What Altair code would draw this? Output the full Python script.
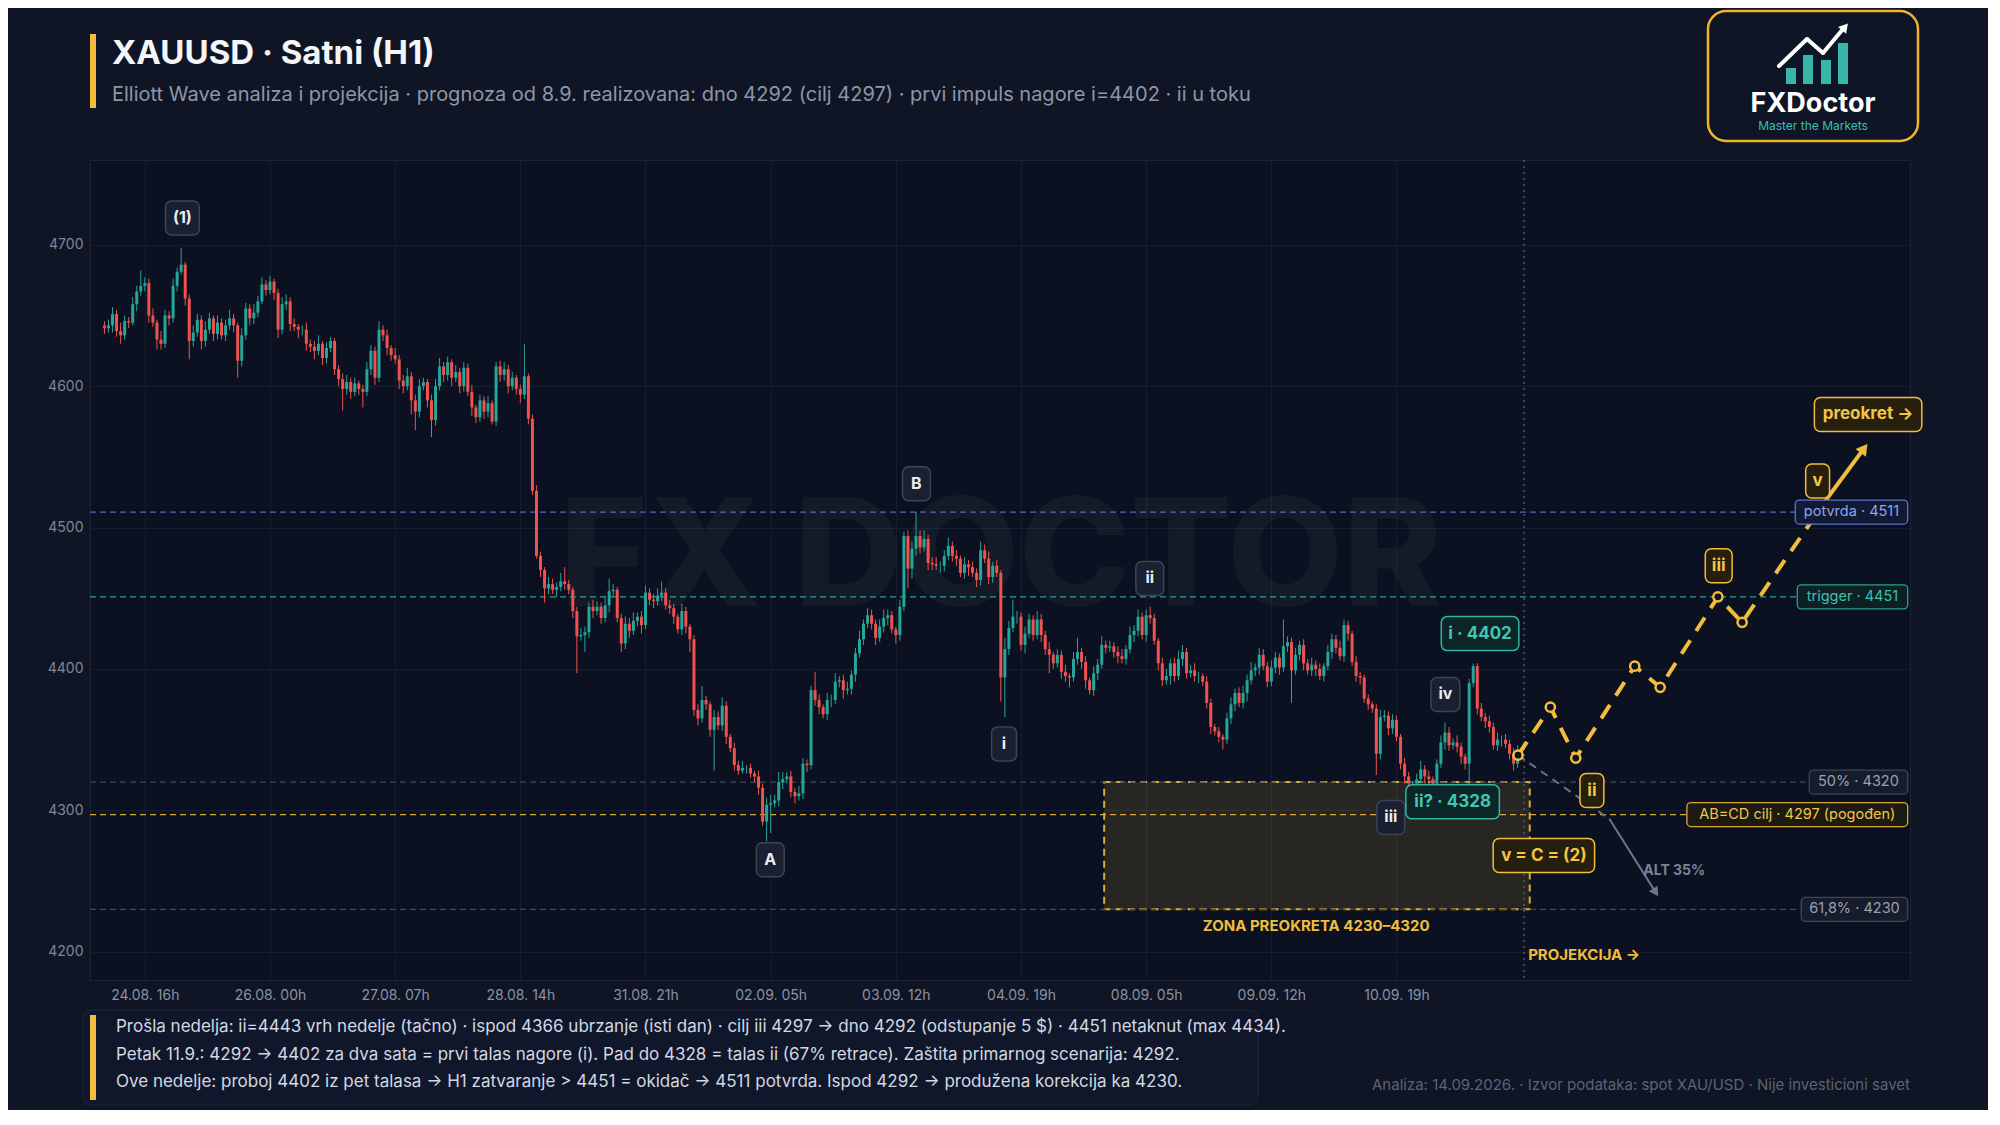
import math
import altair as alt
import pandas as pd

# ---------------- DATA ----------------
first_open = 4643
close = [
    4641, 4643, 4651, 4639, 4636, 4646, 4645, 4658, 4667, 4671,
    4673, 4650, 4645, 4633, 4630, 4650, 4648, 4671, 4681, 4686,
    4662, 4632, 4638, 4647, 4632, 4640, 4648, 4637, 4645, 4636,
    4643, 4648, 4643, 4618, 4636, 4655, 4648, 4652, 4660, 4672,
    4668, 4674, 4666, 4640, 4658, 4660, 4644, 4642, 4640, 4640,
    4630, 4628, 4625, 4630, 4620, 4627, 4632, 4612, 4605, 4598,
    4603, 4596, 4602, 4598, 4596, 4612, 4625, 4606, 4640, 4636,
    4627, 4622, 4619, 4604, 4600, 4607, 4590, 4582, 4600, 4603,
    4590, 4576, 4600, 4614, 4608, 4617, 4606, 4610, 4600, 4613,
    4596, 4585, 4578, 4590, 4582, 4588, 4575, 4614, 4608, 4612,
    4600, 4606, 4598, 4594, 4607, 4577, 4526, 4480, 4470, 4457,
    4460, 4456, 4458, 4462, 4460, 4456, 4441, 4423, 4424, 4426,
    4444, 4441, 4444, 4436, 4445, 4455, 4456, 4436, 4418, 4432,
    4427, 4434, 4437, 4431, 4454, 4449, 4448, 4452, 4454, 4445,
    4443, 4437, 4428, 4441, 4430, 4421, 4371, 4365, 4378, 4375,
    4357, 4366, 4360, 4374, 4352, 4344, 4332, 4328, 4330, 4330,
    4326, 4324, 4316, 4292, 4304, 4305, 4307, 4320, 4322, 4324,
    4313, 4310, 4312, 4333, 4332, 4385, 4378, 4373, 4368, 4378,
    4378, 4391, 4392, 4385, 4386, 4396, 4411, 4421, 4432, 4438,
    4432, 4422, 4430, 4436, 4438, 4428, 4424, 4444, 4494, 4471,
    4485, 4494, 4486, 4492, 4475, 4474, 4473, 4473, 4480, 4487,
    4480, 4478, 4468, 4474, 4472, 4468, 4463, 4484, 4478, 4465,
    4473, 4468, 4394, 4414, 4429, 4437, 4437, 4417, 4425, 4435,
    4424, 4435, 4424, 4414, 4410, 4404, 4410, 4398, 4395, 4394,
    4407, 4412, 4405, 4392, 4385, 4397, 4403, 4417, 4415, 4416,
    4412, 4409, 4407, 4414, 4424, 4427, 4437, 4424, 4438, 4436,
    4420, 4404, 4392, 4395, 4404, 4395, 4407, 4412, 4397, 4399,
    4395, 4395, 4391, 4376, 4359, 4356, 4352, 4350, 4365, 4375,
    4383, 4376, 4383, 4392, 4399, 4401, 4410, 4402, 4391, 4401,
    4408, 4401, 4416, 4419, 4399, 4410, 4417, 4404, 4399, 4403,
    4400, 4395, 4402, 4412, 4421, 4415, 4409, 4431, 4425, 4405,
    4395, 4394, 4379, 4375, 4372, 4340, 4366, 4367, 4358, 4364,
    4352, 4333, 4324, 4319, 4319, 4322, 4329, 4324, 4322, 4319,
    4333, 4348, 4355, 4346, 4348, 4345, 4338, 4333, 4390, 4402,
    4372, 4366, 4363, 4359, 4346, 4350, 4350, 4347, 4340, 4333, 4340,
]
wick_hi = [
    3, 4, 5, 3, 6, 4, 3, 5, 4, 11,
    4, 3, 5, 2, 6, 4, 3, 5, 3, 12,
    2, 3, 5, 4, 3, 6, 4, 2, 5, 3,
    4, 6, 3, 2, 5, 4, 3, 6, 4, 5,
    3, 4, 2, 3, 5, 5, 3, 4, 2, 3,
    5, 3, 4, 6, 2, 4, 3, 2, 3, 4,
    5, 3, 4, 2, 3, 5, 4, 3, 6, 3,
    4, 2, 5, 3, 4, 6, 3, 4, 5, 3,
    2, 4, 5, 6, 3, 4, 2, 5, 3, 4,
    3, 5, 2, 4, 3, 5, 2, 3, 4, 5,
    3, 4, 2, 3, 23, 2, 3, 4, 3, 2,
    5, 4, 3, 6, 10, 3, 2, 3, 5, 4,
    3, 5, 4, 3, 6, 9, 4, 2, 3, 5,
    4, 6, 3, 4, 5, 3, 4, 5, 8, 3,
    4, 3, 2, 5, 3, 2, 3, 4, 10, 3,
    2, 5, 4, 6, 3, 2, 4, 3, 5, 2,
    3, 2, 4, 3, 5, 6, 4, 7, 5, 3,
    4, 3, 5, 4, 3, 3, 13, 4, 2, 5,
    4, 6, 3, 4, 5, 3, 4, 6, 3, 5,
    4, 3, 5, 6, 4, 3, 2, 5, 3, 4,
    5, 17, 4, 6, 3, 4, 5, 3, 4, 6,
    3, 4, 2, 5, 3, 4, 3, 6, 4, 5,
    3, 4, 2, 8, 5, 12, 4, 3, 5, 4,
    3, 6, 4, 3, 5, 2, 4, 3, 5, 2,
    5, 10, 3, 4, 2, 5, 4, 6, 3, 4,
    3, 4, 5, 3, 6, 4, 5, 3, 4, 6,
    3, 2, 4, 5, 3, 4, 6, 5, 3, 4,
    5, 3, 2, 4, 3, 2, 3, 2, 4, 5,
    3, 4, 5, 4, 6, 3, 5, 4, 3, 5,
    4, 3, 19, 4, 3, 5, 3, 4, 3, 5,
    3, 4, 2, 5, 4, 3, 5, 4, 3, 2,
    4, 3, 2, 3, 2, 3, 5, 4, 3, 4,
    3, 2, 4, 3, 2, 4, 6, 3, 4, 2,
    3, 5, 7, 4, 3, 5, 3, 2, 3, 2,
    2, 4, 3, 4, 3, 5, 3, 4, 3, 4, 6,
]
wick_lo = [
    4, 3, 5, 4, 6, 3, 4, 2, 5, 3,
    4, 5, 3, 7, 4, 3, 5, 3, 4, 2,
    5, 13, 4, 3, 6, 4, 3, 5, 4, 3,
    4, 3, 5, 12, 4, 3, 5, 4, 3, 2,
    4, 3, 5, 6, 3, 4, 5, 3, 6, 4,
    5, 4, 6, 3, 5, 4, 3, 4, 5, 15,
    4, 5, 3, 4, 11, 3, 4, 5, 3, 4,
    5, 4, 3, 6, 5, 3, 10, 13, 4, 3,
    5, 12, 4, 3, 5, 4, 6, 3, 5, 4,
    3, 6, 4, 3, 5, 4, 2, 3, 5, 4,
    5, 3, 4, 6, 3, 4, 3, 2, 5, 10,
    4, 3, 5, 3, 4, 3, 5, 26, 3, 12,
    4, 5, 3, 4, 3, 5, 4, 3, 6, 4,
    5, 3, 4, 6, 3, 4, 5, 3, 4, 3,
    4, 5, 3, 4, 5, 9, 4, 5, 3, 4,
    5, 29, 3, 4, 5, 3, 4, 3, 2, 4,
    3, 4, 5, 3, 14, 20, 3, 4, 5, 3,
    4, 5, 3, 4, 5, 3, 4, 5, 3, 4,
    5, 3, 4, 6, 3, 4, 5, 3, 4, 3,
    4, 5, 3, 4, 5, 3, 6, 4, 3, 14,
    7, 5, 4, 3, 5, 4, 3, 5, 4, 3,
    4, 5, 3, 4, 6, 3, 5, 4, 3, 5,
    4, 3, 17, 28, 4, 3, 5, 4, 6, 3,
    4, 3, 5, 4, 13, 4, 3, 5, 4, 7,
    3, 4, 5, 6, 3, 4, 5, 3, 4, 3,
    4, 5, 3, 4, 3, 5, 4, 3, 5, 4,
    3, 5, 4, 3, 6, 4, 3, 5, 4, 3,
    4, 5, 3, 4, 5, 3, 4, 7, 3, 4,
    5, 3, 4, 6, 3, 4, 5, 3, 4, 3,
    4, 5, 3, 4, 23, 3, 4, 5, 3, 4,
    5, 3, 4, 3, 5, 4, 3, 4, 5, 3,
    4, 5, 3, 4, 3, 15, 4, 3, 5, 4,
    3, 4, 5, 6, 3, 4, 3, 5, 4, 3,
    4, 3, 5, 4, 3, 4, 5, 4, 15, 3,
    4, 3, 5, 4, 3, 4, 5, 3, 4, 5, 3,
]

tick_bars = [10, 41, 72, 103, 134, 165, 196, 227, 258, 289, 320]
tick_labels = ["24.08. 16h", "26.08. 00h", "27.08. 07h", "28.08. 14h", "31.08. 21h",
               "02.09. 05h", "03.09. 12h", "04.09. 19h", "08.09. 05h", "09.09. 12h", "10.09. 19h"]
y_ticks = [4200, 4300, 4400, 4500, 4600, 4700]

level_prices = [4511, 4451, 4320, 4297, 4230]
level_labels = ["potvrda · 4511", "trigger · 4451", "50% · 4320", "AB=CD cilj · 4297 (pogođen)", "61,8% · 4230"]

zone_bars = [247.6, 353.0]
zone_prices = [4230, 4320]
now_bar = 351.6

proj_bars = [350.1, 358.1, 364.4, 379.0, 385.3, 399.6, 405.6]
proj_prices = [4339, 4373, 4337, 4402, 4387, 4451, 4433]
proj_tail_bars = [405.6, 427.0]
proj_tail_prices = [4433, 4522]
proj_arrow_bars = [427.0, 435.8]
proj_arrow_prices = [4522, 4556]
alt_dash_bars = [350.1, 372.7]
alt_dash_prices = [4339, 4294]
alt_arrow_bars = [372.7, 384.2]
alt_arrow_prices = [4294, 4242]

wave_texts = ["(1)", "B", "A", "ii", "i", "iii", "iv"]
wave_bars = [19.3, 201.1, 164.9, 258.9, 222.8, 318.6, 332.1]
wave_prices = [4719, 4531, 4265, 4464, 4347, 4295, 4382]
teal_texts = ["i · 4402", "ii? · 4328"]
teal_bars = [340.7, 333.9]
teal_prices = [4425, 4306]
proj_texts = ["ii", "iii", "v", "v = C = (2)", "preokret →"]
proj_lbl_bars = [368.4, 399.8, 424.3, 356.5, 436.8]
proj_lbl_prices = [4314, 4473, 4533, 4268, 4580]

title = "XAUUSD · Satni (H1)"
subtitle = ("Elliott Wave analiza i projekcija · prognoza od 8.9. realizovana: dno 4292 (cilj 4297) · "
            "prvi impuls nagore i=4402 · ii u toku")
notes = [
    "Prošla nedelja: ii=4443 vrh nedelje (tačno) · ispod 4366 ubrzanje (isti dan) · cilj iii 4297 → dno 4292 (odstupanje 5 $) · 4451 netaknut (max 4434).",
    "Petak 11.9.: 4292 → 4402 za dva sata = prvi talas nagore (i). Pad do 4328 = talas ii (67% retrace). Zaštita primarnog scenarija: 4292.",
    "Ove nedelje: proboj 4402 iz pet talasa → H1 zatvaranje > 4451 = okidač → 4511 potvrda. Ispod 4292 → produžena korekcija ka 4230.",
]
footer = "Analiza: 14.09.2026. · Izvor podataka: spot XAU/USD · Nije investicioni savet"

# ---------------- LAYOUT / STYLE ----------------
W, H = 1820, 820
X_DOM = [-2.34, 445.94]
Y_DOM = [4180, 4760]
PPB = W / (X_DOM[1] - X_DOM[0])
PPU = H / (Y_DOM[1] - Y_DOM[0])

BG = "#0f1524"
PLOT_BG = "#0b1120"
GRID = "#161e2e"
GREEN = "#26a69a"
RED = "#ef5350"
YEL = "#f2bd3c"
FONT = "Inter"

XS = alt.Scale(domain=X_DOM, nice=False, zero=False)
YS = alt.Scale(domain=Y_DOM, nice=False, zero=False)

label_expr = "''"
for b, l in reversed(list(zip(tick_bars, tick_labels))):
    label_expr = f"datum.value == {b} ? '{l}' : ({label_expr})"

XA = alt.Axis(values=tick_bars, labelExpr=label_expr, grid=True, gridColor=GRID, domain=False,
              ticks=False, labelPadding=8, labelFontSize=14, labelFont=FONT, labelColor="#8a92a4",
              title=None, labelAngle=0, labelFlush=False)
YA = alt.Axis(values=y_ticks, format="d", grid=True, gridColor=GRID, domain=False, ticks=False,
              labelPadding=7, labelFontSize=14, labelFont=FONT, labelColor="#7f879a", title=None)


def xe(f):
    return alt.X(f"{f}:Q", scale=XS, axis=XA)


def ye(f):
    return alt.Y(f"{f}:Q", scale=YS, axis=YA)


ONE = pd.DataFrame({"k": [0]})

# candles
n = len(close)
opens = [first_open] + close[:-1]
highs = [max(o, c) + w for o, c, w in zip(opens, close, wick_hi)]
lows = [min(o, c) - w for o, c, w in zip(opens, close, wick_lo)]
cdf = pd.DataFrame({"bar": list(range(n)), "open": opens, "close": close, "high": highs, "low": lows})
cdf["dir"] = ["up" if c >= o else "down" for o, c in zip(opens, close)]
ccol = alt.Color("dir:N", scale=alt.Scale(domain=["up", "down"], range=[GREEN, RED]), legend=None)

layers = []

# watermark
layers.append(alt.Chart(ONE).mark_text(text="FX DOCTOR", fontSize=150, fontWeight=800, font=FONT,
                                        color="#ffffff", opacity=0.035, align="center", baseline="middle")
              .encode(x=alt.value(911), y=alt.value(401)))

# zone
zdf = pd.DataFrame({"b1": [zone_bars[0]], "b2": [zone_bars[1]], "p1": [zone_prices[0]], "p2": [zone_prices[1]]})
layers.append(alt.Chart(zdf).mark_rect(fill=YEL, fillOpacity=0.13, stroke=YEL, strokeWidth=2,
                                       strokeDash=[7, 5], strokeOpacity=0.9)
              .encode(x=xe("b1"), x2="b2", y=ye("p1"), y2="p2"))

# level lines
level_line_cols = ["#5668b8", "#2a9f92", "#3f485c", "#d6a935", "#3f485c"]
ldf = pd.DataFrame({"price": level_prices, "col": level_line_cols})
layers.append(alt.Chart(ldf).mark_rule(strokeDash=[6, 4], strokeWidth=1.3)
              .encode(x=alt.value(0), x2=alt.value(W), y=ye("price"), color=alt.Color("col:N", scale=None)))

# now line
layers.append(alt.Chart(pd.DataFrame({"bar": [now_bar]})).mark_rule(strokeDash=[2, 4], color="#5a6275",
                                                                    strokeWidth=1.3)
              .encode(x=xe("bar")))

# candles
layers.append(alt.Chart(cdf).mark_rule(strokeWidth=1).encode(x=xe("bar"), y=ye("low"), y2="high", color=ccol))
layers.append(alt.Chart(cdf).mark_bar(size=3).encode(x=xe("bar"), y=ye("open"), y2="close", color=ccol))


def line_df(bars, prices):
    return pd.DataFrame({"bar": bars, "price": prices, "o": list(range(len(bars)))})


def arrow_angle(b1, p1, b2, p2):
    dx = (b2 - b1) * PPB
    dy = -(p2 - p1) * PPU
    return math.degrees(math.atan2(dx, -dy)) % 360


# projection
layers.append(alt.Chart(line_df(alt_dash_bars, alt_dash_prices)).mark_line(color="#6d7588", strokeWidth=2,
                                                                            strokeDash=[8, 6])
              .encode(x=xe("bar"), y=ye("price"), order="o:Q"))
layers.append(alt.Chart(line_df(alt_arrow_bars, alt_arrow_prices)).mark_line(color="#6d7588", strokeWidth=2)
              .encode(x=xe("bar"), y=ye("price"), order="o:Q"))
layers.append(alt.Chart(line_df(alt_arrow_bars[1:], alt_arrow_prices[1:]))
              .mark_point(shape="triangle-up", filled=True, color="#6d7588", size=110, opacity=1,
                          angle=arrow_angle(alt_arrow_bars[0], alt_arrow_prices[0],
                                            alt_arrow_bars[1], alt_arrow_prices[1]))
              .encode(x=xe("bar"), y=ye("price")))

layers.append(alt.Chart(line_df(proj_bars + proj_tail_bars[1:], proj_prices + proj_tail_prices[1:]))
              .mark_line(color=YEL, strokeWidth=4, strokeDash=[16, 11])
              .encode(x=xe("bar"), y=ye("price"), order="o:Q"))
layers.append(alt.Chart(line_df(proj_arrow_bars, proj_arrow_prices)).mark_line(color=YEL, strokeWidth=4)
              .encode(x=xe("bar"), y=ye("price"), order="o:Q"))
layers.append(alt.Chart(line_df(proj_arrow_bars[1:], proj_arrow_prices[1:]))
              .mark_point(shape="triangle-up", filled=True, color=YEL, size=170, opacity=1,
                          angle=arrow_angle(proj_arrow_bars[0], proj_arrow_prices[0],
                                            proj_arrow_bars[1], proj_arrow_prices[1]))
              .encode(x=xe("bar"), y=ye("price")))
layers.append(alt.Chart(line_df(proj_bars, proj_prices))
              .mark_point(shape="circle", size=85, fill=PLOT_BG, stroke=YEL, strokeWidth=2.5,
                          filled=False, opacity=1, fillOpacity=1)
              .encode(x=xe("bar"), y=ye("price")))


# label boxes
def box_df(texts, bars, prices, widths, height):
    rows = []
    for t, b, p, w in zip(texts, bars, prices, widths):
        rows.append(dict(text=t, bar=b, price=p, x1=b - w / 2 / PPB, x2=b + w / 2 / PPB,
                         y1=p - height / 2 / PPU, y2=p + height / 2 / PPU))
    return pd.DataFrame(rows)


def box_layers(df, fill, stroke, tcol, fsize, weight="bold", sw=1.5, radius=6):
    r = alt.Chart(df).mark_rect(fill=fill, stroke=stroke, strokeWidth=sw, cornerRadius=radius) \
        .encode(x=xe("x1"), x2="x2", y=ye("y1"), y2="y2")
    t = alt.Chart(df).mark_text(color=tcol, fontSize=fsize, fontWeight=weight, font=FONT,
                                baseline="middle", align="center") \
        .encode(x=xe("bar"), y=ye("price"), text="text:N")
    return [r, t]


# level label boxes (right aligned to the plot edge)
lvl_widths = [113, 111, 99, 222, 107]
lvl_fill = ["#121a33", "#0d2124", "#161c2b", "#1d1a12", "#161c2b"]
lvl_stroke = ["#5c73cc", "#2a9f92", "#3d465a", "#d6a935", "#3d465a"]
lvl_text = ["#8fa3f2", "#3fc0ad", "#99a1b3", "#f0c54c", "#99a1b3"]
right_bar = 446.6
for i in range(len(level_prices)):
    w = lvl_widths[i]
    cb = right_bar - w / 2 / PPB
    d = box_df([level_labels[i]], [cb], [level_prices[i]], [w], 24)
    layers += box_layers(d, lvl_fill[i], lvl_stroke[i], lvl_text[i], 14.5, weight="normal", sw=1.3, radius=4)

# wave labels
layers += box_layers(box_df(wave_texts, wave_bars, wave_prices, [34, 28, 28, 28, 25, 28, 29], 34),
                     "#1a2031", "#3b445a", "#e9ecf2", 16)
layers += box_layers(box_df(teal_texts, teal_bars, teal_prices, [78, 94], 34),
                     "#0e2527", "#2fb5a3", "#3fc8b4", 17)
layers += box_layers(box_df(proj_texts, proj_lbl_bars, proj_lbl_prices, [24, 27, 24, 102, 108], 34),
                     "#261f0e", YEL, "#f4c445", 17)

# free texts in data space
tdf = pd.DataFrame({"text": ["ZONA PREOKRETA 4230–4320"], "bar": [300.1], "price": [4218]})
layers.append(alt.Chart(tdf).mark_text(color="#f0bd3a", fontSize=15, fontWeight="bold", font=FONT,
                                       align="center", baseline="middle")
              .encode(x=xe("bar"), y=ye("price"), text="text:N"))
tdf2 = pd.DataFrame({"text": ["PROJEKCIJA →"], "bar": [352.6], "price": [4198]})
layers.append(alt.Chart(tdf2).mark_text(color="#f0bd3a", fontSize=15, fontWeight="bold", font=FONT,
                                        align="left", baseline="middle")
              .encode(x=xe("bar"), y=ye("price"), text="text:N"))
tdf3 = pd.DataFrame({"text": ["ALT 35%"], "bar": [388.8], "price": [4257]})
layers.append(alt.Chart(tdf3).mark_text(color="#7a8296", fontSize=14, fontWeight="bold", font=FONT,
                                        align="center", baseline="middle")
              .encode(x=xe("bar"), y=ye("price"), text="text:N"))


# ---------------- decorations (pixel space, relative to plot origin) ----------------
def ptext(txt, x, y, size, color, weight="normal", align="left"):
    return alt.Chart(ONE).mark_text(text=txt, fontSize=size, color=color, fontWeight=weight, align=align,
                                    baseline="middle", font=FONT).encode(x=alt.value(x), y=alt.value(y))


def prect(x1, y1, x2, y2, fill, radius=0, **kw):
    return alt.Chart(ONE).mark_rect(fill=fill, cornerRadius=radius, **kw) \
        .encode(x=alt.value(x1), x2=alt.value(x2), y=alt.value(y1), y2=alt.value(y2))


def pseg(x1, y1, x2, y2, color, width):
    return alt.Chart(ONE).mark_rule(color=color, strokeWidth=width, strokeCap="round") \
        .encode(x=alt.value(x1), x2=alt.value(x2), y=alt.value(y1), y2=alt.value(y2))


# title block
layers.append(prect(0, -126, 6, -52, YEL))
layers.append(ptext(title, 22, -106, 33, "#f3f5f9", weight="bold"))
layers.append(ptext(subtitle, 22, -65, 20, "#8e96a8"))

# logo
layers.append(prect(1618, -149, 1828, -19, "#0e1526", radius=18, stroke="#f0b429", strokeWidth=2.5))
for (bx1, bx2, by) in [(1696, 1706, -92), (1713, 1723, -105), (1731, 1741, -100), (1748, 1758, -117)]:
    layers.append(prect(bx1, by, bx2, -76, "#38b7a6"))
layers.append(pseg(1689, -94, 1717, -121, "#ffffff", 4))
layers.append(pseg(1717, -121, 1733, -107, "#ffffff", 4))
layers.append(pseg(1733, -107, 1753, -131, "#ffffff", 4))
layers.append(alt.Chart(ONE).mark_point(shape="triangle-up", filled=True, color="#ffffff", size=110, opacity=1,
                                         angle=40).encode(x=alt.value(1755), y=alt.value(-133)))
layers.append(ptext("FXDoctor", 1723, -56, 27, "#ffffff", weight="bold", align="center"))
layers.append(ptext("Master the Markets", 1723, -34, 12, "#3fbfae", align="center"))

# notes block
layers.append(prect(-7, 850, 1168, 945, "#10172a", radius=8, stroke="#1e2638", strokeWidth=1))
layers.append(prect(0, 855, 6, 940, YEL))
for i, line in enumerate(notes):
    layers.append(ptext(line, 26, 867 + i * 27.5, 17, "#d3d8e1"))
layers.append(ptext(footer, 1820, 925, 15, "#5b6376", align="right"))

chart = alt.layer(*layers).properties(
    width=W, height=H,
    autosize=alt.AutoSizeParams(type="none"),
    padding={"left": 82, "top": 152, "right": 78, "bottom": 130},
).configure(background=BG).configure_view(fill=PLOT_BG, stroke="#1c2436", strokeWidth=1)

chart.save("out.html", embed_options={"renderer": "svg", "actions": False})
